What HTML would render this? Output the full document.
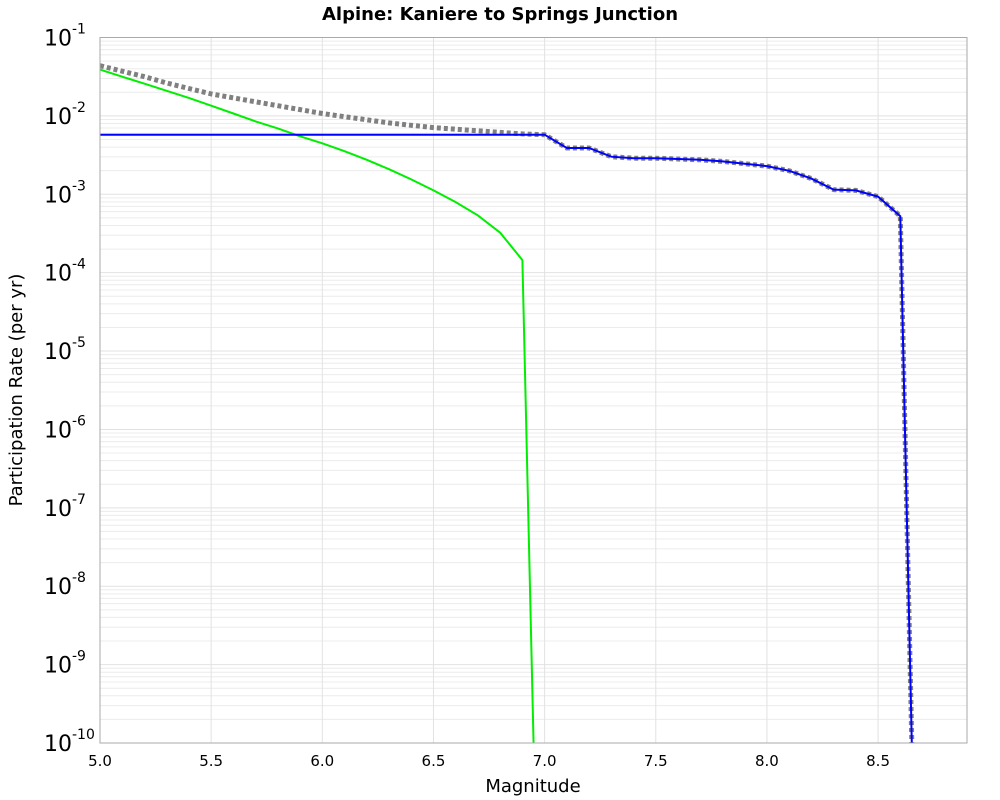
<!DOCTYPE html>
<html><head><meta charset="utf-8"><style>
html,body{margin:0;padding:0;background:#fff;width:1000px;height:800px;overflow:hidden;}
svg{display:block;font-family:"DejaVu Sans","Liberation Sans",sans-serif;}
</style></head><body>
<svg id="chart" width="1000" height="800">
<text x="500" y="20" text-anchor="middle" font-weight="bold" font-size="18">Alpine: Kaniere to Springs Junction</text>
<text x="533" y="792" text-anchor="middle" font-size="18">Magnitude</text>
<text transform="translate(22,390) rotate(-90)" text-anchor="middle" font-size="18">Participation Rate (per yr)</text>
<g id="grid"></g>
<g id="series"></g>
<g id="axes"></g>
</svg>
<script>
const xTicks=[5.0,5.5,6.0,6.5,7.0,7.5,8.0,8.5];
const yExps=[-1,-2,-3,-4,-5,-6,-7,-8,-9,-10];
const greenMag=[5.0,5.1,5.2,5.3,5.4,5.5,5.6,5.7,5.8,5.9,6.0,6.1,6.2,6.3,6.4,6.5,6.6,6.7,6.8,6.9,7.0];
const greenLog=[-1.41,-1.50,-1.59,-1.68,-1.77,-1.87,-1.97,-2.07,-2.16,-2.26,-2.35,-2.45,-2.56,-2.68,-2.81,-2.95,-3.10,-3.27,-3.49,-3.84,-16.1];
const blueMag=[5.0,7.0,7.1,7.2,7.3,7.4,7.5,7.6,7.7,7.8,7.9,8.0,8.1,8.2,8.3,8.4,8.5,8.6,8.7];
const blueLog=[-2.24,-2.24,-2.41,-2.41,-2.52,-2.54,-2.54,-2.55,-2.56,-2.58,-2.61,-2.64,-2.70,-2.80,-2.94,-2.95,-3.03,-3.28,-16.25];
const totalMag=[5.0,5.1,5.2,5.3,5.4,5.5,5.6,5.7,5.8,5.9,6.0,6.1,6.2,6.3,6.4,6.5,6.6,6.7,6.8,6.9,7.0,7.1,7.2,7.3,7.4,7.5,7.6,7.7,7.8,7.9,8.0,8.1,8.2,8.3,8.4,8.5,8.6,8.7];
const totalLog=[-1.36,-1.43,-1.50,-1.58,-1.65,-1.72,-1.77,-1.82,-1.87,-1.92,-1.97,-2.01,-2.05,-2.09,-2.12,-2.15,-2.17,-2.19,-2.21,-2.23,-2.24,-2.41,-2.41,-2.52,-2.54,-2.54,-2.55,-2.56,-2.58,-2.61,-2.64,-2.70,-2.80,-2.94,-2.95,-3.03,-3.28,-16.25];

const L=100,R=967,T=37.5,B=743;
const xMin=5.0,xMax=8.9,yTop=-1,yBot=-10;
const sx=v=>L+(v-xMin)/(xMax-xMin)*(R-L);
const sy=lg=>T+(yTop-lg)/(yTop-yBot)*(B-T);
const NS="http://www.w3.org/2000/svg";
function mk(tag,attrs,parent){const e=document.createElementNS(NS,tag);for(const k in attrs)e.setAttribute(k,attrs[k]);parent.appendChild(e);return e;}
const grid=document.getElementById('grid'),axes=document.getElementById('axes'),series=document.getElementById('series');
const defs=mk('defs',{},document.getElementById('chart'));
const cp=mk('clipPath',{id:'clip'},defs);mk('rect',{x:L,y:T,width:R-L,height:B-T},cp);
series.setAttribute('clip-path','url(#clip)');
for(let d=-1;d>-10;d--){
  for(let m=1;m<10;m++){
    const y=sy(d-1+Math.log10(m));
    const ln=mk('line',{x1:L,x2:R,y1:y,y2:y,stroke:m==1?'#e2e2e2':'#ececec','stroke-width':1},grid);
    
    
  }
}
for(const t of xTicks){
  const x=sx(t);
  const ln=mk('line',{x1:x,x2:x,y1:T,y2:B,stroke:'#e2e2e2','stroke-width':1},grid);
  
  
}
function path(mags,logs){return mags.map((m,i)=>(i?'L':'M')+sx(m).toFixed(1)+','+sy(logs[i]).toFixed(1)).join(' ');}
const tp=mk('path',{d:path(totalMag,totalLog),fill:'none',stroke:'#808080','stroke-width':5,'stroke-dasharray':'4,3'},series);


const gp=mk('path',{d:path(greenMag,greenLog),fill:'none',stroke:'#00ee00','stroke-width':2},series);


const bp=mk('path',{d:path(blueMag,blueLog),fill:'none',stroke:'#0000ff','stroke-width':2},series);


const br=mk('rect',{x:L,y:T,width:R-L,height:B-T,fill:'none',stroke:'#aaaaaa','stroke-width':1},axes);


for(const t of xTicks){
  const tx=mk('text',{x:sx(t),y:766,'text-anchor':'middle','font-size':15},axes);
  tx.textContent=t.toFixed(1);
  
  
}
for(const e of yExps){
  const y=sy(e);
  const tx=mk('text',{x:72,y:y+8,'text-anchor':'end','font-size':22},axes);
  tx.textContent='10';
  
  
  const sp=mk('text',{x:72,y:y-4,'text-anchor':'start','font-size':14},axes);
  sp.textContent=String(e);
  
  
}
</script>
</body></html>
